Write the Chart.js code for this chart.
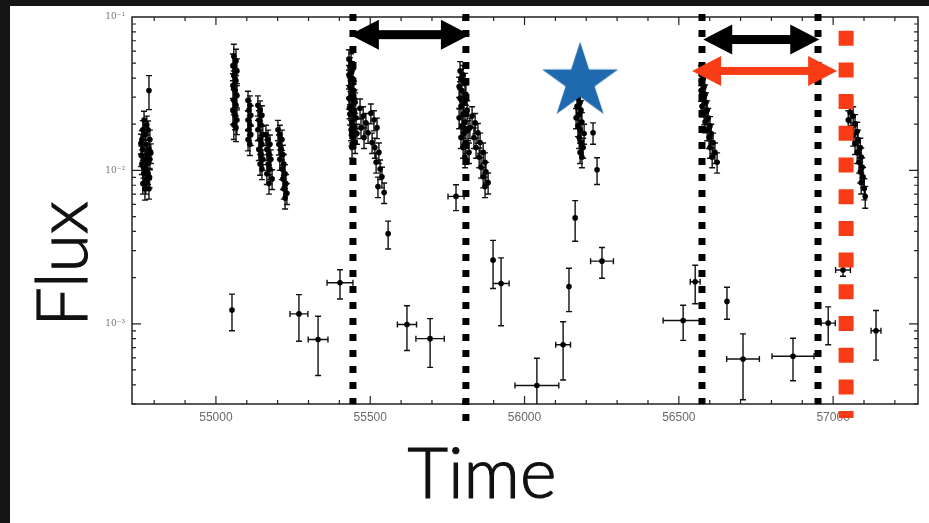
<!DOCTYPE html>
<html>
<head>
<meta charset="utf-8">
<script src="https://cdn.jsdelivr.net/npm/chart.js@4.4.1/dist/chart.umd.min.js"></script>
<style>
  html, body { margin: 0; padding: 0; background: #111; overflow: hidden; }
  canvas { display: block; }
</style>
</head>
<body>
<canvas id="lc" width="929" height="523"></canvas>
<script>
// --- axis ticks ---
const xTickValues = [55000, 55500, 56000, 56500, 57000];
const yTickValues = [0.001, 0.01, 0.1];
const yTickLabels = ['10\u207B\u00B3', '10\u207B\u00B2', '10\u207B\u00B9'];

// --- monitoring seasons: [MJD, flux, flux error] ---
const season09 = [
  [54767, 0.0213, 0.0030], [54776, 0.0198, 0.0028], [54763, 0.0184, 0.0027], [54780, 0.0184, 0.0026],
  [54770, 0.0171, 0.0025], [54786, 0.0159, 0.0024], [54760, 0.0159, 0.0023], [54773, 0.0148, 0.0022],
  [54783, 0.0137, 0.0020], [54763, 0.0137, 0.0021], [54776, 0.0127, 0.0019], [54770, 0.0118, 0.0018],
  [54786, 0.0118, 0.0017], [54760, 0.0110, 0.0016], [54773, 0.0102, 0.0015], [54780, 0.0095, 0.0014],
  [54767, 0.0095, 0.0014], [54776, 0.0088, 0.0013], [54763, 0.0082, 0.0012], [54773, 0.0082, 0.0012],
  [54783, 0.0076, 0.0011], [54770, 0.0076, 0.0012], [54757, 0.0150, 0.0022], [54789, 0.0130, 0.0019],
  [54778, 0.0112, 0.0017], [54765, 0.0105, 0.0016], [54785, 0.0090, 0.0013], [54758, 0.0125, 0.0019],
  [54783, 0.0332, 0.0083]
];
const season10 = [
  [55058, 0.0555, 0.0110], [55065, 0.0516, 0.0100], [55055, 0.0479, 0.0095], [55062, 0.0445, 0.0090],
  [55068, 0.0445, 0.0088], [55058, 0.0414, 0.0080], [55065, 0.0384, 0.0075], [55055, 0.0357, 0.0070],
  [55062, 0.0332, 0.0065], [55068, 0.0308, 0.0060], [55058, 0.0286, 0.0056], [55065, 0.0266, 0.0052],
  [55055, 0.0247, 0.0048], [55062, 0.0229, 0.0045], [55068, 0.0213, 0.0042], [55058, 0.0198, 0.0039],
  [55065, 0.0190, 0.0036],
  [55104, 0.0286, 0.0042], [55110, 0.0266, 0.0040], [55107, 0.0247, 0.0037], [55113, 0.0229, 0.0035],
  [55104, 0.0213, 0.0032], [55110, 0.0198, 0.0030], [55107, 0.0184, 0.0028], [55113, 0.0171, 0.0026],
  [55104, 0.0159, 0.0025], [55110, 0.0148, 0.0023],
  [55136, 0.0266, 0.0040], [55143, 0.0247, 0.0037], [55149, 0.0229, 0.0035], [55139, 0.0213, 0.0032],
  [55146, 0.0198, 0.0030], [55136, 0.0184, 0.0028], [55152, 0.0171, 0.0026], [55143, 0.0159, 0.0024],
  [55149, 0.0148, 0.0022], [55139, 0.0137, 0.0021], [55146, 0.0127, 0.0019], [55152, 0.0118, 0.0018],
  [55143, 0.0110, 0.0017], [55149, 0.0102, 0.0015],
  [55162, 0.0171, 0.0026], [55169, 0.0159, 0.0024], [55175, 0.0148, 0.0022], [55165, 0.0137, 0.0021],
  [55172, 0.0127, 0.0019], [55178, 0.0118, 0.0018], [55169, 0.0110, 0.0017], [55175, 0.0102, 0.0015],
  [55165, 0.0095, 0.0014], [55182, 0.0088, 0.0013], [55172, 0.0082, 0.0012],
  [55201, 0.0184, 0.0028], [55207, 0.0171, 0.0026], [55214, 0.0159, 0.0024], [55204, 0.0148, 0.0022],
  [55211, 0.0137, 0.0021], [55217, 0.0127, 0.0019], [55207, 0.0118, 0.0018], [55220, 0.0110, 0.0017],
  [55214, 0.0102, 0.0015], [55224, 0.0095, 0.0014], [55217, 0.0088, 0.0013], [55227, 0.0082, 0.0012],
  [55220, 0.0076, 0.0011], [55230, 0.0071, 0.0011], [55224, 0.0066, 0.0010]
];
const season11 = [
  [55431, 0.0531, 0.0080], [55438, 0.0501, 0.0075], [55434, 0.0472, 0.0071], [55441, 0.0445, 0.0067],
  [55431, 0.0420, 0.0063], [55444, 0.0396, 0.0059], [55438, 0.0373, 0.0056], [55434, 0.0352, 0.0053],
  [55447, 0.0332, 0.0050], [55441, 0.0313, 0.0047], [55431, 0.0295, 0.0044], [55451, 0.0278, 0.0042],
  [55438, 0.0262, 0.0039], [55444, 0.0247, 0.0037], [55434, 0.0233, 0.0035], [55454, 0.0220, 0.0033],
  [55441, 0.0207, 0.0031], [55447, 0.0195, 0.0029], [55438, 0.0184, 0.0028], [55457, 0.0174, 0.0026],
  [55444, 0.0164, 0.0025], [55451, 0.0152, 0.0023], [55441, 0.0141, 0.0021],
  [55436, 0.0385, 0.0058], [55449, 0.0290, 0.0044], [55433, 0.0255, 0.0038], [55446, 0.0230, 0.0035],
  [55439, 0.0170, 0.0026],
  [55467, 0.0254, 0.0038], [55477, 0.0226, 0.0034], [55486, 0.0204, 0.0031], [55470, 0.0190, 0.0029],
  [55493, 0.0176, 0.0026], [55480, 0.0164, 0.0025], [55502, 0.0236, 0.0035], [55512, 0.0213, 0.0032],
  [55522, 0.0190, 0.0029], [55506, 0.0152, 0.0023], [55515, 0.0141, 0.0021], [55528, 0.0131, 0.0020],
  [55519, 0.0113, 0.0017], [55532, 0.0102, 0.0015], [55538, 0.00909, 0.0014], [55525, 0.00784, 0.0012],
  [55545, 0.00718, 0.0011]
];
const season12 = [
  [55791, 0.0445, 0.0067], [55801, 0.0420, 0.0063], [55794, 0.0396, 0.0059], [55807, 0.0373, 0.0056],
  [55788, 0.0352, 0.0053], [55797, 0.0332, 0.0050], [55810, 0.0313, 0.0047], [55791, 0.0295, 0.0044],
  [55804, 0.0278, 0.0042], [55794, 0.0262, 0.0039], [55814, 0.0247, 0.0037], [55801, 0.0233, 0.0035],
  [55788, 0.0220, 0.0033], [55807, 0.0207, 0.0031], [55797, 0.0195, 0.0029], [55817, 0.0184, 0.0028],
  [55804, 0.0174, 0.0026], [55794, 0.0164, 0.0025], [55810, 0.0152, 0.0023], [55801, 0.0141, 0.0021],
  [55820, 0.0131, 0.0020], [55807, 0.0122, 0.0018],
  [55830, 0.0226, 0.0034], [55840, 0.0204, 0.0031], [55823, 0.0190, 0.0029], [55849, 0.0176, 0.0026],
  [55836, 0.0164, 0.0025], [55856, 0.0152, 0.0023], [55843, 0.0141, 0.0021], [55866, 0.0131, 0.0020],
  [55853, 0.0122, 0.0018], [55872, 0.0113, 0.0017], [55859, 0.0105, 0.0016], [55875, 0.00978, 0.0015],
  [55866, 0.00909, 0.0014], [55882, 0.00832, 0.0013], [55872, 0.00784, 0.0012]
];
const season13 = [
  [56173, 0.0295, 0.0044], [56180, 0.0278, 0.0042], [56170, 0.0262, 0.0039], [56183, 0.0247, 0.0037],
  [56177, 0.0233, 0.0035], [56167, 0.0220, 0.0033], [56186, 0.0207, 0.0031], [56173, 0.0195, 0.0029],
  [56180, 0.0184, 0.0028], [56193, 0.0174, 0.0026], [56177, 0.0164, 0.0025], [56183, 0.0152, 0.0023],
  [56190, 0.0141, 0.0021], [56180, 0.0131, 0.0020], [56186, 0.0122, 0.0018], [56222, 0.0176, 0.0028],
  [56235, 0.0101, 0.0020]
];
const season14 = [
  [56572, 0.0420, 0.0063], [56579, 0.0396, 0.0059], [56575, 0.0373, 0.0056], [56582, 0.0352, 0.0053],
  [56572, 0.0332, 0.0050], [56585, 0.0313, 0.0047], [56579, 0.0295, 0.0044], [56588, 0.0278, 0.0042],
  [56575, 0.0262, 0.0039], [56592, 0.0247, 0.0037], [56582, 0.0233, 0.0035], [56595, 0.0220, 0.0033],
  [56585, 0.0207, 0.0031], [56601, 0.0195, 0.0029], [56592, 0.0184, 0.0028], [56605, 0.0174, 0.0026],
  [56598, 0.0164, 0.0025], [56611, 0.0152, 0.0023], [56601, 0.0141, 0.0021], [56617, 0.0131, 0.0020],
  [56608, 0.0122, 0.0018], [56624, 0.0113, 0.0017]
];
const season15 = [
  [57055, 0.0240, 0.0036], [57065, 0.0226, 0.0034], [57049, 0.0213, 0.0032], [57071, 0.0201, 0.0030],
  [57058, 0.0190, 0.0029], [57078, 0.0179, 0.0027], [57065, 0.0169, 0.0025], [57081, 0.0159, 0.0024],
  [57071, 0.0150, 0.0023], [57088, 0.0141, 0.0021], [57078, 0.0131, 0.0020], [57091, 0.0122, 0.0018],
  [57084, 0.0113, 0.0017], [57094, 0.0105, 0.0016], [57088, 0.00978, 0.0015], [57097, 0.00909, 0.0014],
  [57091, 0.00832, 0.0013], [57101, 0.00762, 0.0012], [57104, 0.00677, 0.0011]
];

// --- sparse low-state points: [MJD, MJD half-width, flux, flux error] ---
const sparse = [
  [55052, 0, 0.00123, 0.00033], [55269, 29, 0.00116, 0.00039], [55331, 32, 0.00079, 0.00033],
  [55402, 42, 0.00185, 0.00040], [55558, 0, 0.00387, 0.00080], [55619, 31, 0.00099, 0.00032],
  [55694, 46, 0.00080, 0.00028], [55778, 26, 0.00677, 0.00130], [55898, 0, 0.00260, 0.00090],
  [55924, 26, 0.00183, 0.00086], [56040, 71, 0.000396, 0.00020], [56125, 24, 0.00073, 0.00030],
  [56144, 0, 0.00175, 0.00055], [56164, 0, 0.00490, 0.00145], [56251, 37, 0.00256, 0.00058],
  [56514, 65, 0.00105, 0.00027], [56553, 16, 0.00188, 0.00053], [56656, 0, 0.00140, 0.00033],
  [56708, 53, 0.00059, 0.00027], [56870, 68, 0.000615, 0.00019], [56984, 23, 0.00101, 0.00028],
  [57032, 24, 0.00224, 0.00020], [57139, 16, 0.00090, 0.00032]
];

// --- annotations ---
const epochMjd = [55444, 55810, 56575, 56951];
const epochTop = [0.1045, 0.1045, 0.1045, 0.1045];
const epochBottom = [2.99e-4, 2.20e-4, 2.99e-4, 2.99e-4];
const flareMjd = 57042;
const flareTop = 0.0814;
const flareBottom = 2.435e-4;
const arrowFrom = [55434, 56579, 56543];
const arrowTo = [55823, 56955, 57013];
const arrowFlux = [0.0767, 0.0713, 0.0445];
const arrowColor = ['#000', '#000', '#f83c16'];
const starMjd = 56180;
const starFlux = 0.0379;

const RED = '#f83c16';

const pts = [];
[season09, season10, season11, season12, season13, season14, season15].forEach(s =>
  s.forEach(([m, f, e]) => pts.push({ x: m, y: f, xErr: 0, yErr: e })));
sparse.forEach(([m, me, f, e]) => pts.push({ x: m, y: f, xErr: me, yErr: e }));

// star marker canvas
function makeStar(R, color) {
  const c = document.createElement('canvas');
  c.width = c.height = Math.ceil(R * 2 + 4);
  const g = c.getContext('2d');
  const cx = c.width / 2, cy = c.height / 2, r = R * 0.382;
  g.beginPath();
  for (let i = 0; i < 10; i++) {
    const rad = -Math.PI / 2 + i * Math.PI / 5;
    const rr = i % 2 === 0 ? R : r;
    g.lineTo(cx + rr * Math.cos(rad), cy + rr * Math.sin(rad));
  }
  g.closePath();
  g.fillStyle = color;
  g.fill();
  return c;
}

const framePlugin = {
  id: 'frame',
  beforeDraw(chart) {
    const { ctx, width, height } = chart;
    ctx.save();
    ctx.fillStyle = '#141414';
    ctx.fillRect(0, 0, width, height);
    ctx.fillStyle = '#fff';
    ctx.fillRect(10, 6, width - 10, height - 6);
    ctx.restore();
  }
};

const axesBox = {
  id: 'axesBox',
  beforeDatasetsDraw(chart) {
    const { ctx, chartArea: a, scales: { x, y } } = chart;
    ctx.save();
    ctx.strokeStyle = '#222';
    ctx.lineWidth = 1.5;
    ctx.strokeRect(a.left, a.top, a.right - a.left, a.bottom - a.top);
    ctx.lineWidth = 1.2;
    ctx.beginPath();
    for (let v = 54800; v <= 57200; v += 100) {
      const px = x.getPixelForValue(v);
      const len = v % 500 === 0 ? 8 : 4;
      ctx.moveTo(px, a.bottom); ctx.lineTo(px, a.bottom - len);
      ctx.moveTo(px, a.top); ctx.lineTo(px, a.top + len);
    }
    [-4, -3, -2].forEach(e => {
      for (let k = 1; k <= 9; k++) {
        const v = k * Math.pow(10, e);
        if (v < y.min || v > y.max) continue;
        const py = y.getPixelForValue(v);
        const len = k === 1 ? 9 : 4;
        ctx.moveTo(a.left, py); ctx.lineTo(a.left + len, py);
        ctx.moveTo(a.right, py); ctx.lineTo(a.right - len, py);
      }
    });
    ctx.stroke();
    ctx.restore();
  }
};

const errorBars = {
  id: 'errorBars',
  beforeDatasetsDraw(chart) {
    const { ctx, chartArea: a, scales: { x, y } } = chart;
    ctx.save();
    ctx.beginPath();
    ctx.rect(a.left, a.top, a.right - a.left, a.bottom - a.top);
    ctx.clip();
    ctx.strokeStyle = '#111';
    ctx.lineWidth = 1.4;
    ctx.beginPath();
    pts.forEach(p => {
      const px = x.getPixelForValue(p.x), py = y.getPixelForValue(p.y);
      const top = y.getPixelForValue(p.y + p.yErr);
      const bot = y.getPixelForValue(Math.max(p.y - p.yErr, y.min * 0.5));
      ctx.moveTo(px, top); ctx.lineTo(px, bot);
      ctx.moveTo(px - 3, top); ctx.lineTo(px + 3, top);
      ctx.moveTo(px - 3, bot); ctx.lineTo(px + 3, bot);
      if (p.xErr) {
        const l = x.getPixelForValue(p.x - p.xErr), r = x.getPixelForValue(p.x + p.xErr);
        ctx.moveTo(l, py); ctx.lineTo(r, py);
        ctx.moveTo(l, py - 3); ctx.lineTo(l, py + 3);
        ctx.moveTo(r, py - 3); ctx.lineTo(r, py + 3);
      }
    });
    ctx.stroke();
    ctx.restore();
  }
};

const arrows = {
  id: 'arrows',
  afterDatasetsDraw(chart) {
    const { ctx, scales: { x, y } } = chart;
    ctx.save();
    arrowFrom.forEach((m, i) => {
      const x1 = x.getPixelForValue(m), x2 = x.getPixelForValue(arrowTo[i]);
      const yy = y.getPixelForValue(arrowFlux[i]);
      const head = 29, half = 15, thick = i === 2 ? 8 : 9;
      ctx.fillStyle = arrowColor[i];
      ctx.fillRect(x1 + head - 1, yy - thick / 2, x2 - x1 - 2 * head + 2, thick);
      ctx.beginPath();
      ctx.moveTo(x1, yy); ctx.lineTo(x1 + head, yy - half); ctx.lineTo(x1 + head, yy + half); ctx.closePath();
      ctx.moveTo(x2, yy); ctx.lineTo(x2 - head, yy - half); ctx.lineTo(x2 - head, yy + half); ctx.closePath();
      ctx.fill();
    });
    ctx.restore();
  }
};

const bigLabels = {
  id: 'bigLabels',
  afterDraw(chart) {
    const { ctx } = chart;
    ctx.save();
    ctx.fillStyle = '#111';
    ctx.strokeStyle = '#111';
    ctx.lineWidth = 1.2;
    ctx.font = '300 70px Lato, "Liberation Sans", Arial, sans-serif';
    ctx.textAlign = 'center';
    ctx.textBaseline = 'alphabetic';
    ctx.fillText('Time', 482, 498);
    ctx.strokeText('Time', 482, 498);
    ctx.translate(87, 264);
    ctx.rotate(-Math.PI / 2);
    ctx.fillText('Flux', 0, 0);
    ctx.strokeText('Flux', 0, 0);
    ctx.restore();
  }
};

const datasets = [
  {
    type: 'scatter',
    data: [{ x: starMjd, y: starFlux }],
    pointStyle: makeStar(40, '#1f69ae'),
    order: 0
  },
  ...epochMjd.map((m, i) => ({
    type: 'line',
    data: [{ x: m, y: epochTop[i] }, { x: m, y: epochBottom[i] }],
    borderColor: '#000',
    borderWidth: 7,
    borderDash: [7, 9],
    pointRadius: 0,
    clip: false,
    order: 1
  })),
  {
    type: 'line',
    data: [{ x: flareMjd, y: flareTop }, { x: flareMjd, y: flareBottom }],
    borderColor: RED,
    borderWidth: 15,
    borderDash: [15, 16.7],
    pointRadius: 0,
    clip: false,
    order: 1
  },
  {
    type: 'scatter',
    data: pts,
    pointRadius: 2.8,
    pointBackgroundColor: '#000',
    pointBorderColor: '#000',
    pointBorderWidth: 0,
    order: 2
  }
];

new Chart(document.getElementById('lc'), {
  type: 'scatter',
  data: { datasets },
  options: {
    responsive: false,
    animation: false,
    devicePixelRatio: 1,
    events: [],
    layout: { padding: { top: 17, right: 11, left: 0, bottom: 0 } },
    plugins: { legend: { display: false }, tooltip: { enabled: false } },
    scales: {
      x: {
        type: 'linear',
        min: 54728,
        max: 57275,
        grid: { display: false, drawTicks: false },
        border: { display: false },
        afterFit: s => { s.height = 119; },
        afterBuildTicks: s => { s.ticks = xTickValues.map(v => ({ value: v })); },
        ticks: {
          padding: 6,
          color: '#6a6a6a',
          font: { family: '"Liberation Sans", Arial, sans-serif', size: 12 },
          callback: v => String(v)
        }
      },
      y: {
        type: 'logarithmic',
        min: 3.37e-4,
        max: 0.1,
        grid: { display: false, drawTicks: false },
        border: { display: false },
        afterFit: s => { s.width = 132; },
        afterBuildTicks: s => { s.ticks = yTickValues.map(v => ({ value: v })); },
        ticks: {
          padding: 7,
          color: '#777',
          font: { family: '"DejaVu Serif", serif', size: 9 },
          callback: (v, i) => yTickLabels[i]
        }
      }
    }
  },
  plugins: [framePlugin, axesBox, errorBars, arrows, bigLabels]
});
</script>
</body>
</html>
